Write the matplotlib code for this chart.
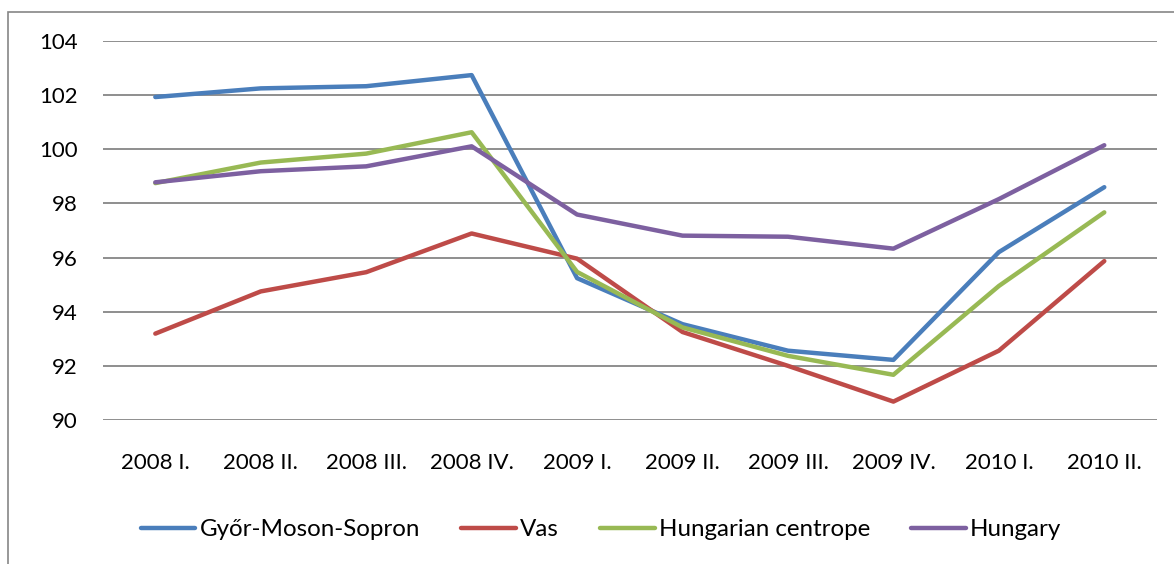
import matplotlib
matplotlib.use("Agg")
import matplotlib.pyplot as plt
from matplotlib.patches import Rectangle

categories = ["2008 I.", "2008 II.", "2008 III.", "2008 IV.", "2009 I.",
              "2009 II.", "2009 III.", "2009 IV.", "2010 I.", "2010 II."]
gyor = [101.93, 102.25, 102.33, 102.74, 95.24, 93.54, 92.56, 92.22, 96.2, 98.6]
vas = [93.19, 94.75, 95.46, 96.89, 95.96, 93.25, 92.0, 90.68, 92.56, 95.87]
centrope = [98.75, 99.51, 99.84, 100.63, 95.47, 93.42, 92.37, 91.67, 94.95, 97.67]
hungary = [98.78, 99.19, 99.37, 100.11, 97.59, 96.81, 96.77, 96.33, 98.16, 100.15]
series_names = ["Győr-Moson-Sopron", "Vas", "Hungarian centrope", "Hungary"]
colors = ["#4A7EBB", "#BE4B48", "#98B954", "#7D60A0"]
yticks = [90, 92, 94, 96, 98, 100, 102, 104]

plt.rcParams['font.family'] = ['Lato', 'DejaVu Sans']

W, H = 1174, 564
fig = plt.figure(figsize=(W / 100, H / 100), dpi=100)
ax = fig.add_axes([102.6 / W, 1 - 420 / H, (1157 - 102.6) / W, (420 - 41) / H])

x = list(range(len(categories)))
for vals, name, c in zip([gyor, vas, centrope, hungary], series_names, colors):
    ax.plot(x, vals, color=c, lw=3.2, label=name, solid_joinstyle='round',
            solid_capstyle='round', zorder=3)

ax.set_xlim(-0.5, len(categories) - 0.5)
ax.set_ylim(90, 104)
ax.set_yticks(yticks)
ax.set_yticklabels([str(v) for v in yticks])
ax.set_xticks(x)
ax.set_xticklabels(categories)
ax.grid(axis='y', color='#868686', lw=1.3, zorder=1)
ax.set_axisbelow(True)
for s in ax.spines.values():
    s.set_visible(False)
ax.tick_params(axis='both', length=0, labelsize=16, colors='black')
ax.tick_params(axis='y', pad=18)
ax.tick_params(axis='x', pad=24)

fig.patches.append(Rectangle((7.5 / W, -0.1), 1.2, 1 - 12 / H + 0.1,
                             transform=fig.transFigure, fill=False,
                             edgecolor='#868686', lw=1.2))

fig.legend(loc='center', bbox_to_anchor=(601 / W, 1 - 530 / H), ncol=4,
           frameon=False, fontsize=17.4, handlelength=2.27, handletextpad=0.17,
           columnspacing=1.7)

fig.savefig("out.png", dpi=100)
